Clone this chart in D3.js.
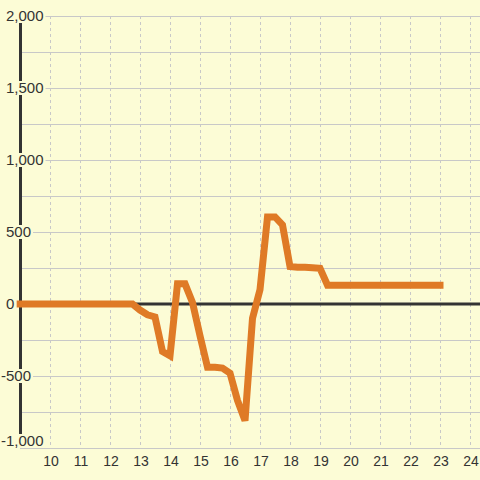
<!DOCTYPE html>
<html>
<head>
<meta charset="utf-8">
<script src="https://cdn.jsdelivr.net/npm/d3@7"></script>
<style>
  html, body { margin: 0; padding: 0; background: #fcfcd6; }
  svg { display: block; font-family: "Liberation Sans", Arial, sans-serif; }
</style>
</head>
<body>
<svg id="chart" width="480" height="480"></svg>
<script>
// hour of day -> value
const hours  = [9, 12.75, 13, 13.25, 13.5, 13.75, 14, 14.25, 14.5, 14.75, 15, 15.25, 15.5, 15.75, 16, 16.25, 16.5, 16.75, 17, 17.25, 17.5, 17.75, 18, 18.25, 18.5, 18.75, 19, 19.25, 23];
const values = [0, 0, -42, -75, -90, -330, -360, 140, 140, 10, -220, -440, -440, -445, -480, -670, -810, -100, 100, 605, 605, 550, 260, 255, 255, 252, 248, 130, 130];

const xTicks = [10, 11, 12, 13, 14, 15, 16, 17, 18, 19, 20, 21, 22, 23, 24];
const yGrid = [-1000, -750, -500, -250, 0, 250, 500, 750, 1000, 1250, 1500, 1750, 2000];
const yLabels = [-1000, -500, 0, 500, 1000, 1500, 2000];

const bg = "#fcfcd6";
const svg = d3.select("#chart");
const plot = { left: 20, right: 480, top: 16, bottom: 448 };

const x = d3.scaleLinear().domain([9, 24 + 1/3]).range([plot.left, plot.right]);
const y = d3.scaleLinear().domain([-1000, 2000]).range([plot.bottom, plot.top]);

svg.append("rect").attr("width", 480).attr("height", 480).attr("fill", bg);

// vertical dashed grid
svg.append("g").selectAll("line").data(xTicks).join("line")
  .attr("x1", d => x(d) + 0.5).attr("x2", d => x(d) + 0.5)
  .attr("y1", plot.top).attr("y2", plot.bottom)
  .attr("stroke", "#c8c8c8").attr("stroke-width", 1)
  .attr("stroke-dasharray", "3,3");

// horizontal grid
svg.append("g").selectAll("line").data(yGrid).join("line")
  .attr("x1", plot.left).attr("x2", plot.right)
  .attr("y1", d => Math.round(y(d)) + 0.5).attr("y2", d => Math.round(y(d)) + 0.5)
  .attr("stroke", "#c8c8c8").attr("stroke-width", 1);

// y axis line
svg.append("line")
  .attr("x1", plot.left + 0.5).attr("x2", plot.left + 0.5)
  .attr("y1", plot.top).attr("y2", plot.bottom)
  .attr("stroke", "#333").attr("stroke-width", 3);

// zero line
svg.append("line")
  .attr("x1", plot.left).attr("x2", plot.right)
  .attr("y1", y(0)).attr("y2", y(0))
  .attr("stroke", "#333").attr("stroke-width", 3);

// data line
const line = d3.line()
  .x((d, i) => x(hours[i]))
  .y(d => y(d));

svg.append("path")
  .datum(values)
  .attr("d", line)
  .attr("fill", "none")
  .attr("stroke", "#df7a26")
  .attr("stroke-width", 7)
  .attr("stroke-linecap", "square")
  .attr("stroke-linejoin", "miter");

// y labels with background boxes
const fmt = d3.format(",");
const yl = svg.append("g").attr("font-size", 15).attr("fill", "#333");
yLabels.forEach(v => {
  const cy = Math.min(y(v), plot.bottom - 7);
  const t = yl.append("text")
    .attr("x", v < 0 ? 1 : 6)
    .attr("y", cy)
    .attr("dy", "0.35em")
    .text(fmt(v).replace("−", "-"));
  const bb = t.node().getBBox();
  yl.insert("rect", "text")
    .attr("x", bb.x - 2).attr("y", cy - 7)
    .attr("width", bb.width + 4).attr("height", 14)
    .attr("fill", bg);
});

// x labels
svg.append("g").selectAll("text").data(xTicks).join("text")
  .attr("x", d => x(d) + 1)
  .attr("y", 466)
  .attr("text-anchor", "middle")
  .attr("font-size", 14)
  .attr("fill", "#333")
  .text(d => d);
</script>
</body>
</html>
